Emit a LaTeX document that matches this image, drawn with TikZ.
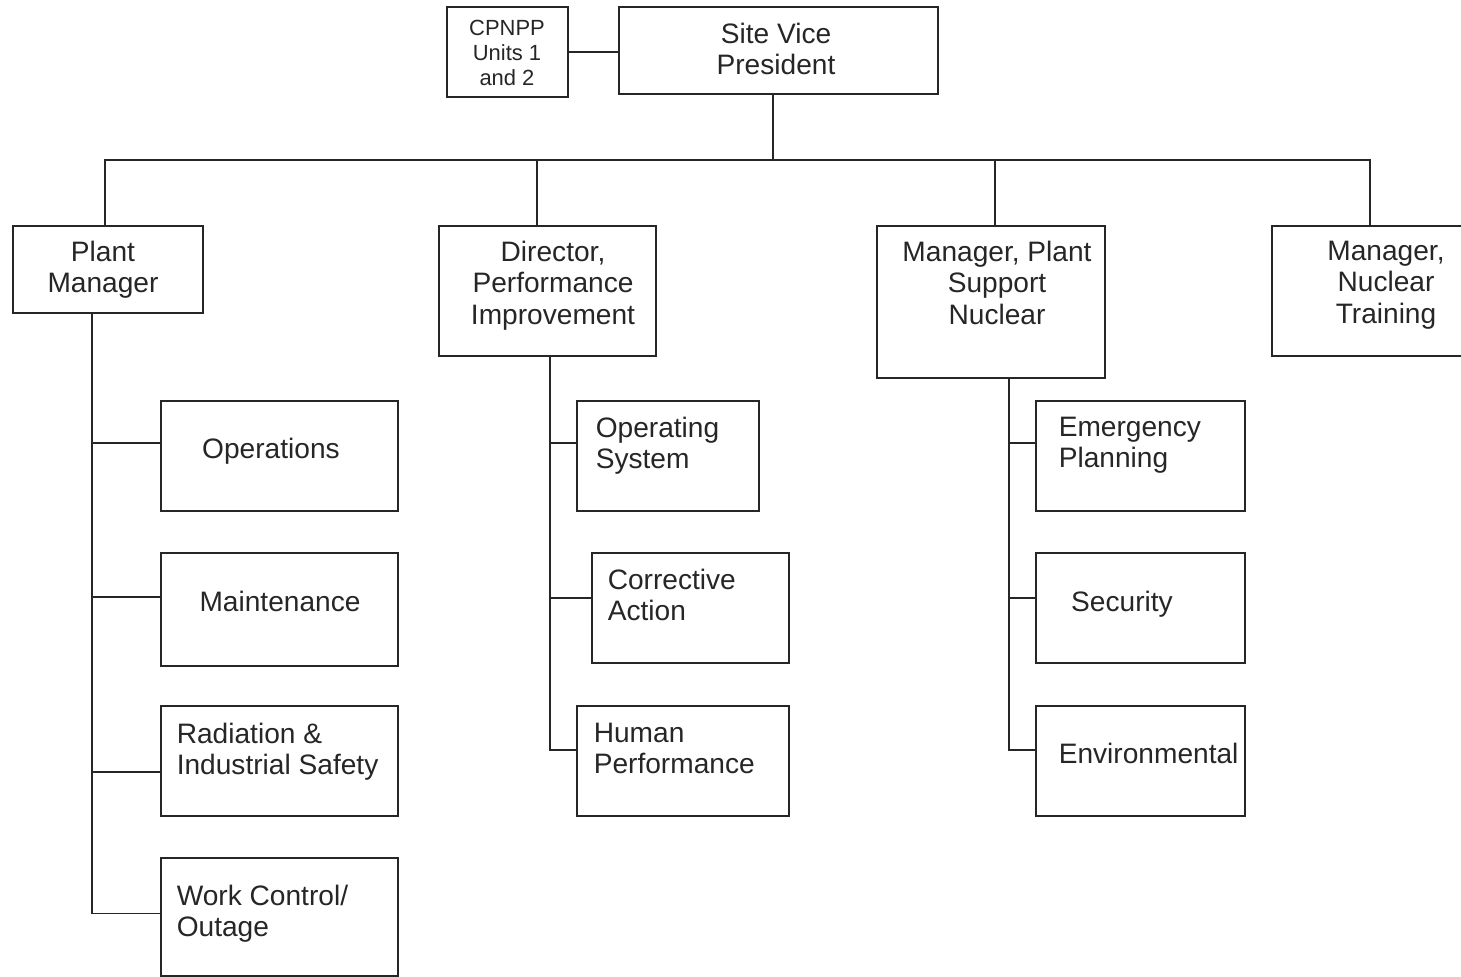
\documentclass[tikz,border=0pt]{standalone}
\usepackage{fontspec}
\setmainfont{Liberation Sans}
\usepackage{xcolor}
\usepackage{tikz}

\begin{document}
\begin{tikzpicture}[x=0.02cm, y=-0.02cm, line width=0.9pt, draw=black!85,
    box/.style={draw, rectangle, inner sep=0pt},
    txt/.style={inner sep=0pt, anchor=north, align=center, text=black!85, font=\fontsize{16}{18.1}\selectfont},
    ltxt/.style={txt, anchor=north west, align=left},
    smalltxt/.style={txt, font=\fontsize{12.5}{14.2}\selectfont}]
            \useasboundingbox (0,0) rectangle (1461,977);
            \clip (0,0) rectangle (1461,977);

            % top row
            \node[box, minimum width=2.42cm, minimum height=1.8cm] (cpnpp) at (507.5,52) {};
            \node[smalltxt] (cpnpp-t) at (507,19) {CPNPP\\Units 1\\and 2};
            \node[box, minimum width=6.38cm, minimum height=1.74cm] (svp) at (778.5,50.5) {};
            \node[txt] (svp-t) at (776,22) {Site Vice\\President};

            % managers
            \node[box, minimum width=3.8cm, minimum height=1.74cm] (pm) at (108,269.5) {};
            \node[txt] (pm-t) at (103,240) {Plant\\Manager};
            \node[box, minimum width=4.34cm, minimum height=2.6cm] (dpi) at (547.5,291) {};
            \node[txt] (dpi-t) at (553,240) {Director,\\Performance\\Improvement};
            \node[box, minimum width=4.56cm, minimum height=3.04cm] (mpsn) at (991,302) {};
            \node[txt] (mpsn-t) at (997,240) {Manager, Plant\\Support\\Nuclear};
            \node[box, minimum width=4.56cm, minimum height=2.6cm] (mnt) at (1386,291) {};
            \node[txt] (mnt-t) at (1386,240) {Manager,\\Nuclear\\Training};

            % plant manager groups
            \node[box, minimum width=4.74cm, minimum height=2.2cm] (ops) at (279.5,456) {};
            \node[txt] (ops-t) at (271,437) {Operations};
            \node[box, minimum width=4.74cm, minimum height=2.26cm] (maint) at (279.5,609.5) {};
            \node[txt] (maint-t) at (280,590) {Maintenance};
            \node[box, minimum width=4.74cm, minimum height=2.2cm] (rad) at (279.5,761) {};
            \node[ltxt] (rad-t) at (176,722) {Radiation \&\\Industrial Safety};
            \node[box, minimum width=4.74cm, minimum height=2.36cm] (wc) at (279.5,917) {};
            \node[ltxt] (wc-t) at (176,884) {Work Control/\\Outage};

            % performance improvement groups
            \node[box, minimum width=3.64cm, minimum height=2.2cm] (os) at (668,456) {};
            \node[ltxt] (os-t) at (595,416) {Operating\\System};
            \node[box, minimum width=3.94cm, minimum height=2.2cm] (ca) at (690.5,608) {};
            \node[ltxt] (ca-t) at (607,568) {Corrective\\Action};
            \node[box, minimum width=4.24cm, minimum height=2.2cm] (hp) at (683,761) {};
            \node[ltxt] (hp-t) at (593,722) {Human\\Performance};

            % plant support groups
            \node[box, minimum width=4.18cm, minimum height=2.2cm] (ep) at (1140.5,456) {};
            \node[ltxt] (ep-t) at (1058,416) {Emergency\\Planning};
            \node[box, minimum width=4.18cm, minimum height=2.2cm] (sec) at (1140.5,608) {};
            \node[txt] (sec-t) at (1122,590) {Security};
            \node[box, minimum width=4.18cm, minimum height=2.2cm] (env) at (1140.5,761) {};
            \node[ltxt] (env-t) at (1058,742) {Environmental};

            % connectors
            \coordinate (bus) at (773,160);
            \coordinate (pmsp) at (92,0);
            \coordinate (dpisp) at (550,0);
            \coordinate (mpssp) at (1009,0);

            \draw (cpnpp.east) -- (cpnpp.east -| svp.west);
            \draw (svp.south -| bus) -- (bus);
            \draw ([xshift=-0.06cm]pm.north) |- (bus) -| ([xshift=-0.32cm]mnt.north);
            \draw ([xshift=-0.21cm]dpi.north) -- ++(0,-66);
            \draw ([xshift=0.08cm]mpsn.north) -- ++(0,-66);

            \draw (pm.south -| pmsp) |- ([yshift=0.07cm]wc.west);
            \draw ([yshift=0.26cm]ops.west) -- ++(-69,0);
            \draw ([yshift=0.25cm]maint.west) -- ++(-69,0);
            \draw ([yshift=-0.22cm]rad.west) -- ++(-69,0);

            \draw (dpi.south -| dpisp) |- ([yshift=0.22cm]hp.west);
            \draw ([yshift=0.26cm]os.west) -- ++(-27,0);
            \draw ([yshift=0.2cm]ca.west) -- ++(-42,0);

            \draw (mpsn.south -| mpssp) |- ([yshift=0.22cm]env.west);
            \draw ([yshift=0.26cm]ep.west) -- ++(-27,0);
            \draw ([yshift=0.2cm]sec.west) -- ++(-27,0);
        \end{tikzpicture}
\end{document}
